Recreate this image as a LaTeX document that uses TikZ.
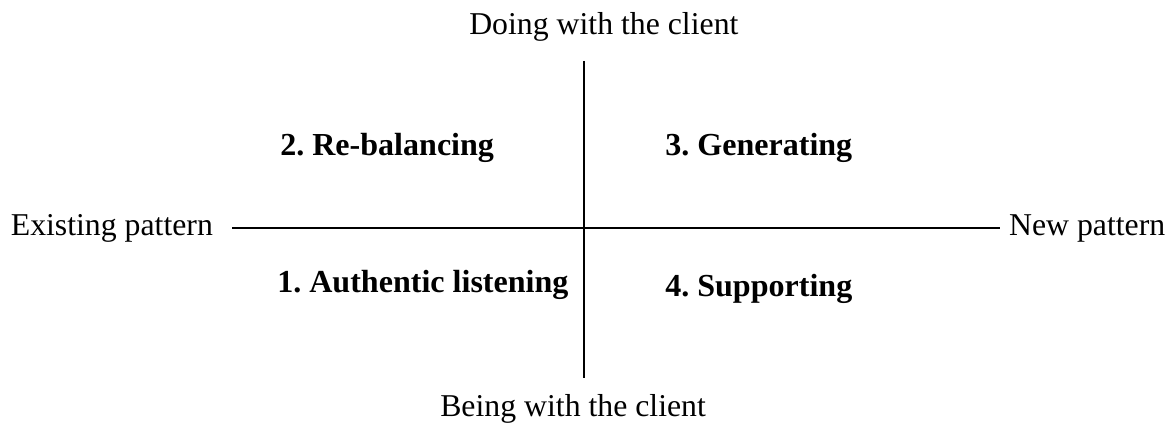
\documentclass[tikz,border=0pt]{standalone}
\usepackage{fontspec}
\setmainfont{Liberation Serif}
\usepackage{tikz}
\usetikzlibrary{positioning}

\begin{document}
\begin{tikzpicture}[
        axislabel/.style={font=\fontsize{22.6}{27}\selectfont, inner sep=2pt},
        quadlabel/.style={font=\fontsize{22.8}{27}\selectfont\bfseries\frenchspacing, inner sep=2pt, anchor=base west}
    ]
        \useasboundingbox (0,0) rectangle (29.275,10.575);

        % Axes
        \coordinate (top) at (14.6,9.05);
        \coordinate (bottom) at (14.6,1.125);
        \coordinate (left) at (5.8,4.875);
        \coordinate (right) at (25.0,4.875);
        \draw[line width=1.3pt] (left) -- (right);
        \draw[line width=1.3pt] (top) -- (bottom);

        % Axis labels
        \node[axislabel, anchor=base west] (doing) at (11.655,9.7) {Doing with the client};
        \node[axislabel, anchor=base west] (being) at (10.93,0.15) {Being with the client};
        \node[axislabel, left=0.4 of left] (existing) {Existing pattern};
        \node[axislabel, right=0.15 of right] (new) {New pattern};

        % Quadrants
        \node[quadlabel] (rebalancing) at (6.93,6.675) {2. Re-balancing};
        \node[quadlabel] (generating) at (16.555,6.675) {3. Generating};
        \node[quadlabel] (listening) at (6.855,3.25) {1. Authentic listening};
        \node[quadlabel] (supporting) at (16.555,3.15) {4. Supporting};
    \end{tikzpicture}
\end{document}
